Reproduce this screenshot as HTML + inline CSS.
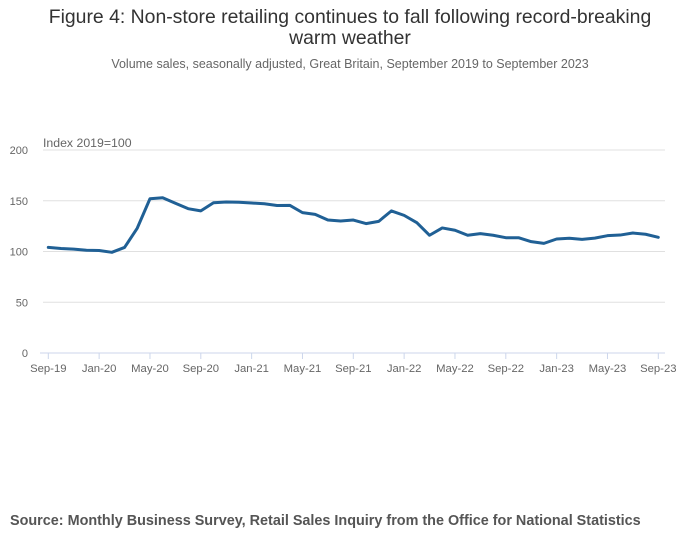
<!DOCTYPE html>
<html><head><meta charset="utf-8"><style>
body{margin:0;background:#fff;font-family:"Liberation Sans",sans-serif;}
#wrap{position:relative;width:700px;height:549px;overflow:hidden;}
.t{position:absolute;left:0;width:700px;text-align:center;}
</style></head><body>
<div id="wrap">
<div class="t" style="top:7px;font-size:19.4px;color:#333;line-height:21px;">Figure 4: Non-store retailing continues to fall following record-breaking<br>warm weather</div>
<div class="t" style="top:57px;font-size:12.5px;color:#666;">Volume sales, seasonally adjusted, Great Britain, September 2019 to September 2023</div>
<svg id="c" width="700" height="549" style="position:absolute;left:0;top:0"></svg>
<div style="position:absolute;left:10px;top:513px;font-size:14.4px;font-weight:bold;color:#555;">Source: Monthly Business Survey, Retail Sales Inquiry from the Office for National Statistics</div>
</div>
<script>
const yTicks=[0,50,100,150,200];
const xLabels=["Sep-19","Jan-20","May-20","Sep-20","Jan-21","May-21","Sep-21","Jan-22","May-22","Sep-22","Jan-23","May-23","Sep-23"];
const values=[104.1,103,102.3,101.2,101,99.2,104,123,152,153,147.5,142.2,140,148,148.8,148.5,147.8,147,145.3,145.5,138.3,136.6,131,130,131,127.5,129.7,140,135.6,128.4,116,123.2,120.9,116,117.6,116,113.6,113.6,109.7,108,112.3,113,112,113.2,115.6,116.2,118.2,117,114];
const NS="http://www.w3.org/2000/svg";
const svg=document.getElementById('c');
const x0=48.3,x1=658.3,y0=353,yScale=1.015;
function xs(i){return x0+i*(x1-x0)/(values.length-1);}
function ys(v){return y0-v*yScale;}
function mk(t,a){const e=document.createElementNS(NS,t);for(const k in a)e.setAttribute(k,a[k]);svg.appendChild(e);return e;}
yTicks.forEach(v=>{
  if(v>0){const g=mk('line',{x1:43,x2:665,y1:ys(v),y2:ys(v),stroke:'#e0e0e0','stroke-width':1});
  
  }
  const t=mk('text',{x:28,y:ys(v)+4,'text-anchor':'end','font-size':11,fill:'#666','font-family':'Liberation Sans, sans-serif'});
  t.textContent=v;
  
  
});
const ax=mk('line',{x1:40,x2:665,y1:y0,y2:y0,stroke:'#ccd6eb','stroke-width':1});


xLabels.forEach((l,k)=>{
  const x=xs(k*4);
  const tk=mk('line',{x1:x,x2:x,y1:y0,y2:y0+6,stroke:'#ccd6eb','stroke-width':1});
  
  
  const t=mk('text',{x:x,y:372,'text-anchor':'middle','font-size':11.3,fill:'#666','font-family':'Liberation Sans, sans-serif'});
  t.textContent=l;
  
  
});
const yt=mk('text',{x:43,y:147,'font-size':12.3,fill:'#666','font-family':'Liberation Sans, sans-serif'});
yt.textContent='Index 2019=100';


const p=mk('polyline',{points:values.map((v,i)=>xs(i)+','+ys(v)).join(' '),fill:'none',stroke:'#206095','stroke-width':3,'stroke-linejoin':'round','stroke-linecap':'round'});


</script>
</body></html>
